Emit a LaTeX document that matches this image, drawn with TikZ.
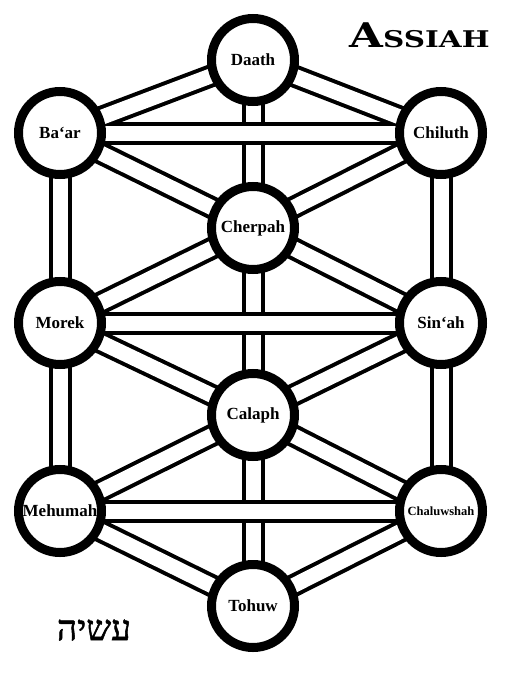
\documentclass[tikz,border=0pt]{standalone}
\usepackage{fontspec}
\setmainfont{Liberation Serif}
\newfontfamily\titlefont[FakeStretch=1.28]{DejaVu Serif}
\newfontfamily\hebfont[Script=Hebrew, FakeBold=1.5]{Liberation Serif}
\TeXXeTstate=1
\usetikzlibrary{backgrounds}
\pgfdeclarelayer{bottom}
\pgfsetlayers{bottom,background,main}
\tikzset{
  sefira/.style={circle, draw=black, line width=9pt, fill=white, minimum size=83pt, inner sep=0pt, font=\bfseries\fontsize{17}{17}\selectfont},
  pathouter/.style={line width=23pt, black},
  pathinner/.style={line width=15pt, white}
}
\begin{document}
\begin{tikzpicture}[x=1pt,y=-1pt]
\begin{pgfonlayer}{bottom}
\fill[white] (0,0) rectangle (504,693);
\end{pgfonlayer}
\useasboundingbox (0,0) rectangle (504,693);
\node[sefira] (Daath) at (253,60) {Daath};
\node[sefira] (Baar) at (60,133) {Ba‘ar};
\node[sefira] (Chiluth) at (441,133) {Chiluth};
\node[sefira] (Cherpah) at (253,228) {Cherpah};
\node[sefira] (Morek) at (60,323) {Morek};
\node[sefira] (Sinah) at (441,323) {Sin‘ah};
\node[sefira] (Calaph) at (253,415) {Calaph};
\node[sefira] (Mehumah) at (60,511) {Mehumah};
\node[sefira, font=\bfseries\fontsize{12.5}{12.5}\selectfont] (Chaluwshah) at (441,511) {Chaluwshah};
\node[sefira] (Tohuw) at (253,606) {Tohuw};
\begin{pgfonlayer}{background}
  % central verticals (under the horizontals)
  \foreach \a/\b in {Daath/Cherpah, Cherpah/Calaph, Calaph/Tohuw}{
    \draw[pathouter] (\a.center) -- (\b.center);
    \draw[pathinner] (\a.center) -- (\b.center);
  }
  \foreach \a/\b in {Daath/Baar, Daath/Chiluth, Baar/Cherpah, Chiluth/Cherpah,
      Baar/Morek, Chiluth/Sinah, Cherpah/Morek, Cherpah/Sinah,
      Morek/Calaph, Sinah/Calaph, Morek/Mehumah, Sinah/Chaluwshah,
      Calaph/Mehumah, Calaph/Chaluwshah, Mehumah/Tohuw, Chaluwshah/Tohuw,
      Baar/Chiluth, Morek/Sinah, Mehumah/Chaluwshah}{
    \draw[pathouter] (\a.center) -- (\b.center);
  }
  \foreach \a/\b in {Daath/Baar, Daath/Chiluth, Baar/Cherpah, Chiluth/Cherpah,
      Baar/Morek, Chiluth/Sinah, Cherpah/Morek, Cherpah/Sinah,
      Morek/Calaph, Sinah/Calaph, Morek/Mehumah, Sinah/Chaluwshah,
      Calaph/Mehumah, Calaph/Chaluwshah, Mehumah/Tohuw, Chaluwshah/Tohuw,
      Baar/Chiluth, Morek/Sinah, Mehumah/Chaluwshah}{
    \draw[pathinner] (\a.center) -- (\b.center);
  }
\end{pgfonlayer}
\node[anchor=base, inner sep=0pt, font=\titlefont\bfseries\fontsize{34}{34}\selectfont] (title) at (419.5,48) {A{\fontsize{23}{23}\selectfont SSIAH}};
\node[inner sep=0pt, font=\hebfont\fontsize{35}{35}\selectfont] (heb) at (94,630) {\beginR עשיה\endR};
\end{tikzpicture}
\end{document}
